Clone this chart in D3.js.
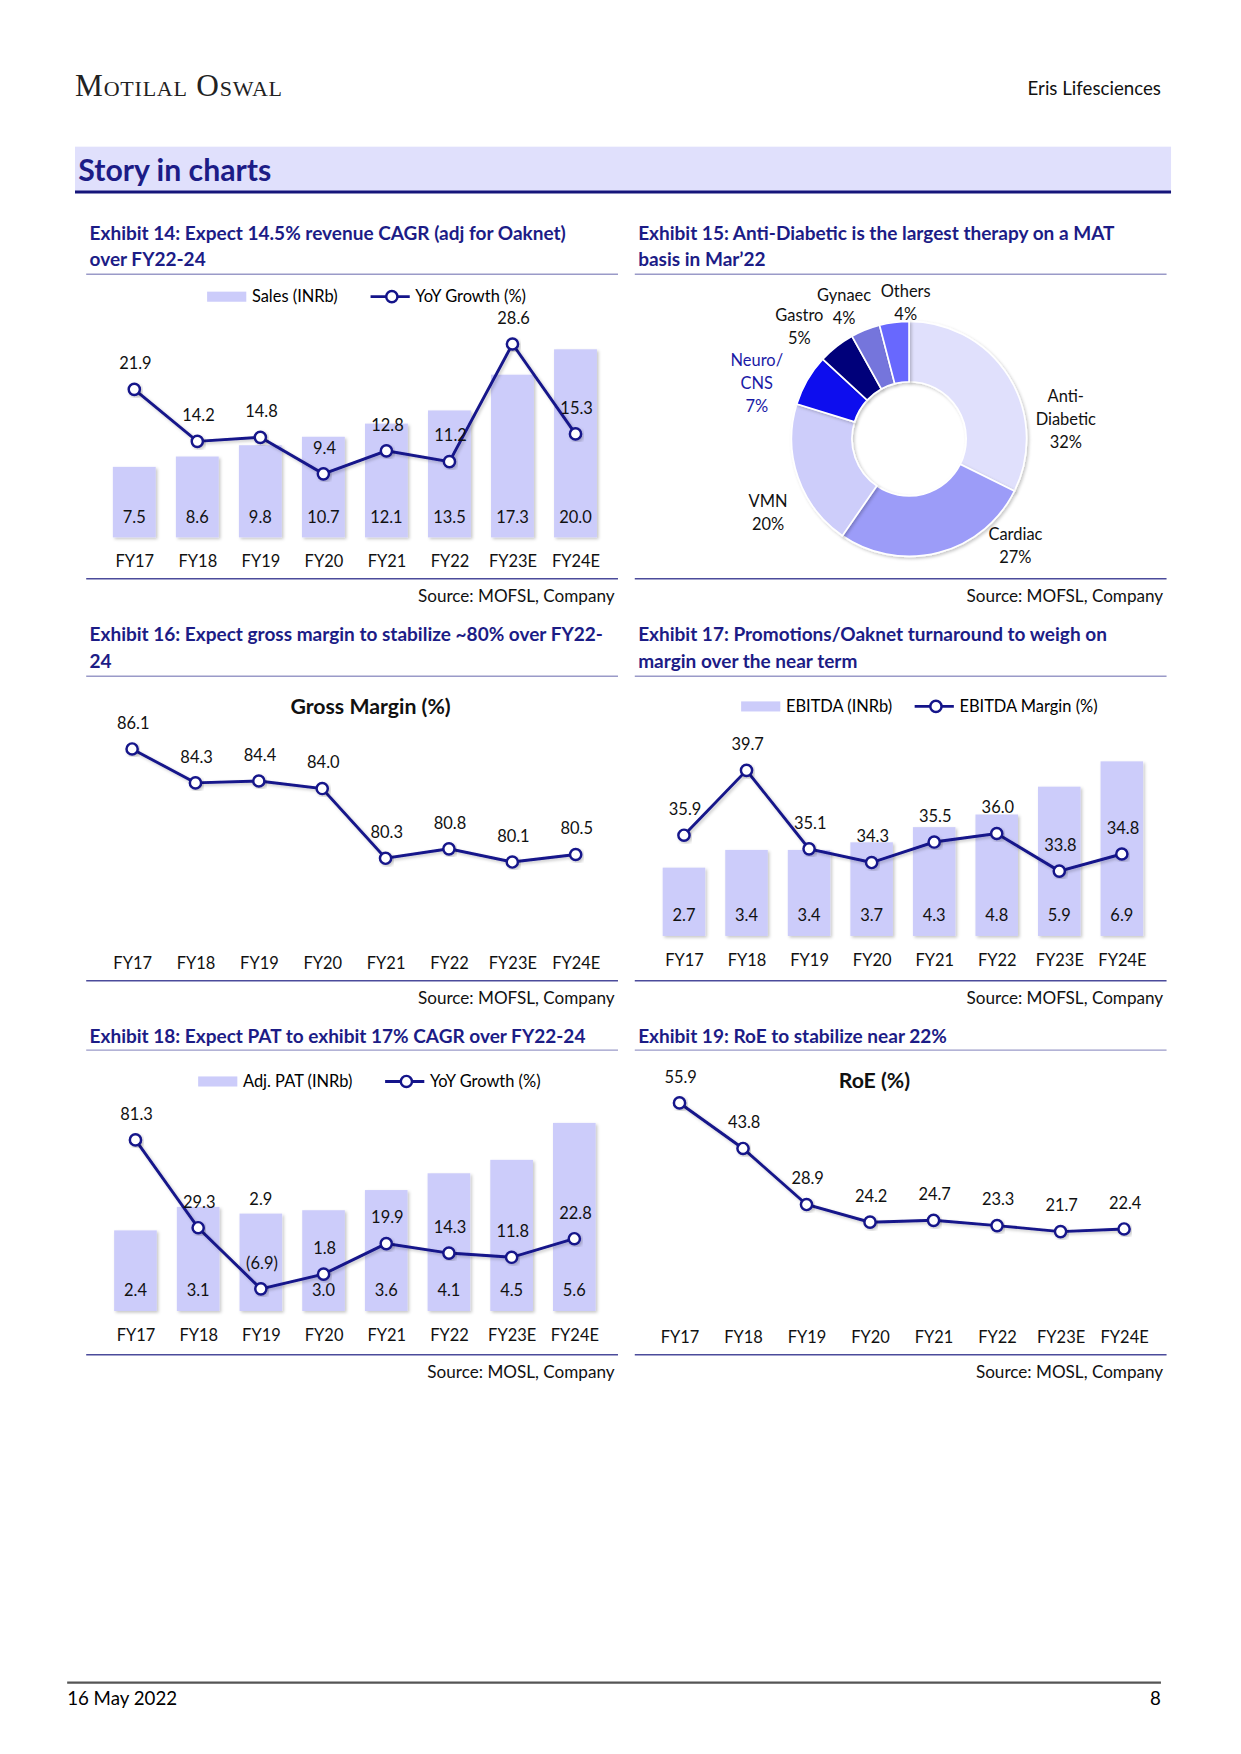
<!DOCTYPE html>
<html>
<head>
<meta charset="utf-8">
<script src="https://cdn.jsdelivr.net/npm/d3@7"></script>
<style>
  body { margin: 0; background: #fff; }
  text { font-family: Lato, "Open Sans", sans-serif; }
</style>
</head>
<body>
<script>
// ---- data ----
const years = ["FY17", "FY18", "FY19", "FY20", "FY21", "FY22", "FY23E", "FY24E"];

const sales = [7.5, 8.6, 9.8, 10.7, 12.1, 13.5, 17.3, 20.0];
const salesGrowth = [21.9, 14.2, 14.8, 9.4, 12.8, 11.2, 28.6, 15.3];

const therapyNames = ["Anti-Diabetic", "Cardiac", "VMN", "Neuro/CNS", "Gastro", "Gynaec", "Others"];
const therapyShare = [32, 27, 20, 7, 5, 4, 4];

const grossMargin = [86.1, 84.3, 84.4, 84.0, 80.3, 80.8, 80.1, 80.5];

const ebitda = [2.7, 3.4, 3.4, 3.7, 4.3, 4.8, 5.9, 6.9];
const ebitdaMargin = [35.9, 39.7, 35.1, 34.3, 35.5, 36.0, 33.8, 34.8];

const pat = [2.4, 3.1, 2.9, 3.0, 3.6, 4.1, 4.5, 5.6];
const patGrowth = [81.3, 29.3, -6.9, 1.8, 19.9, 14.3, 11.8, 22.8];

const roe = [55.9, 43.8, 28.9, 24.2, 24.7, 23.3, 21.7, 22.4];

// ---- colours ----
const navy = "#1c1c86";
const lineCol = "#14148a";
const barCol = "#ccccfa";
const pieCols = ["#e0e0fc", "#9c9cf8", "#cdcdfa", "#0a0aee", "#00007a", "#7575dc", "#6868fe"];

// page is laid out in a ~1108 wide box, scaled to the window
const W = 1108.5, H = 1566.7;
const svg = d3.select("body").append("svg")
  .attr("width", 1241).attr("height", 1754)
  .attr("viewBox", `0 0 ${W} ${H}`);

const defs = svg.append("defs");
defs.append("filter").attr("id", "sh").attr("x", "-20%").attr("y", "-20%").attr("width", "140%").attr("height", "140%")
  .append("feDropShadow").attr("dx", 1.5).attr("dy", 1.5).attr("stdDeviation", 1.2)
  .attr("flood-color", "#000").attr("flood-opacity", 0.22);

const fmt = v => v < 0 ? `(${d3.format(".1f")(-v)})` : d3.format(".1f")(v);

// ---- page header ----
svg.append("text").attr("x", 67).attr("y", 86)
  .style("font-family", "'Liberation Serif', serif").style("font-variant", "small-caps")
  .attr("font-size", 28).attr("letter-spacing", 0.7).attr("fill", "#222").text("Motilal Oswal");
svg.append("text").attr("x", 1037).attr("y", 85).attr("text-anchor", "end")
  .attr("font-size", 16.7).attr("fill", "#111").text("Eris Lifesciences");

svg.append("rect").attr("x", 67).attr("y", 131).attr("width", 979).attr("height", 40).attr("fill", "#e0e0fc");
svg.append("line").attr("x1", 67).attr("x2", 1046).attr("y1", 171.5).attr("y2", 171.5)
  .attr("stroke", "#15157a").attr("stroke-width", 2.5);
svg.append("text").attr("x", 70).attr("y", 162).attr("font-size", 27).attr("font-weight", "bold")
  .attr("fill", navy).text("Story in charts");

// ---- footer ----
svg.append("line").attr("x1", 60).attr("x2", 1037).attr("y1", 1503).attr("y2", 1503)
  .attr("stroke", "#555").attr("stroke-width", 2);
svg.append("text").attr("x", 60).attr("y", 1523).attr("font-size", 16.7).text("16 May 2022");
svg.append("text").attr("x", 1037).attr("y", 1523).attr("font-size", 16.7).attr("text-anchor", "end").text("8");

// ---- helpers ----
const cols = [{x0: 77, x1: 552}, {x0: 567, x1: 1042}];

function exhibit(col, lines, y, ruleY) {
  const c = cols[col];
  const t = svg.append("text").attr("x", c.x0 + 3).attr("y", y)
    .attr("font-size", 17).attr("font-weight", "bold").attr("fill", navy);
  lines.forEach((l, i) => t.append("tspan").attr("x", c.x0 + 3).attr("dy", i ? 24 : 0).text(l));
  svg.append("line").attr("x1", c.x0).attr("x2", c.x1).attr("y1", ruleY).attr("y2", ruleY)
    .attr("stroke", "#9a9ac8").attr("stroke-width", 1.3);
}

function source(col, ruleY, txt) {
  const c = cols[col];
  svg.append("line").attr("x1", c.x0).attr("x2", c.x1).attr("y1", ruleY).attr("y2", ruleY)
    .attr("stroke", "#4b4b9b").attr("stroke-width", 1.3);
  svg.append("text").attr("x", c.x1 - 3).attr("y", ruleY + 21).attr("text-anchor", "end")
    .attr("font-size", 15.3).attr("fill", "#111").text(txt);
}

function legend(y, bx, barName, lx, lineName) {
  const g = svg.append("g");
  g.append("rect").attr("x", bx).attr("y", y - 4.5).attr("width", 35).attr("height", 9).attr("fill", barCol);
  g.append("text").attr("x", bx + 40).attr("y", y + 5).attr("font-size", 14.7).text(barName);
  g.append("line").attr("x1", lx).attr("x2", lx + 35).attr("y1", y).attr("y2", y)
    .attr("stroke", lineCol).attr("stroke-width", 2.5);
  g.append("circle").attr("cx", lx + 19).attr("cy", y).attr("r", 5)
    .attr("fill", "#fff").attr("stroke", lineCol).attr("stroke-width", 2.2);
  g.append("text").attr("x", lx + 40).attr("y", y + 5).attr("font-size", 14.7).text(lineName);
}

function xAxis(x, base, ax0, ax1) {
  svg.append("line").attr("x1", ax0).attr("x2", ax1).attr("y1", base).attr("y2", base)
    .attr("stroke", "#a6a6a6").attr("stroke-width", 1.6).attr("filter", "url(#sh)");
  const a = svg.append("g").attr("transform", `translate(0,${base})`)
    .call(d3.axisBottom(x).tickSize(0).tickPadding(16));
  a.select(".domain").remove();
  a.selectAll("text").attr("font-size", 14.7).attr("fill", "#111")
    .style("font-family", "Lato, 'Open Sans', sans-serif");
}

function drawLine(x, y, vals) {
  const g = svg.append("g");
  g.append("path").datum(vals)
    .attr("d", d3.line().x((d, i) => x(years[i])).y(d => y(d)))
    .attr("fill", "none").attr("stroke", lineCol).attr("stroke-width", 2.6).attr("filter", "url(#sh)");
  g.selectAll("circle").data(vals).join("circle")
    .attr("cx", (d, i) => x(years[i])).attr("cy", d => y(d)).attr("r", 5)
    .attr("fill", "#fff").attr("stroke", lineCol).attr("stroke-width", 2.2).attr("filter", "url(#sh)");
  g.selectAll("text").data(vals).join("text")
    .attr("x", (d, i) => x(years[i]) + 1).attr("y", d => y(d) - 18)
    .attr("text-anchor", "middle").attr("font-size", 14.7).attr("fill", "#111").text(fmt);
}

function drawBars(x, y, vals, aboveIdx) {
  const bw = x.step() * 0.68;
  const g = svg.append("g");
  g.selectAll("rect").data(vals).join("rect")
    .attr("x", (d, i) => x(years[i]) - bw / 2).attr("width", bw)
    .attr("y", d => y(d)).attr("height", d => y(0) - y(d))
    .attr("fill", barCol).attr("filter", "url(#sh)");
  g.selectAll("text").data(vals).join("text")
    .attr("x", (d, i) => x(years[i]))
    .attr("y", (d, i) => aboveIdx.includes(i) ? y(d) - 8 : y(0) - 13)
    .attr("text-anchor", "middle").attr("font-size", 14.7).attr("fill", "#111").text(fmt);
}

// ---- Exhibit 14 ----
exhibit(0, ["Exhibit 14: Expect 14.5% revenue CAGR (adj for Oaknet)", "over FY22-24"], 214, 245);
legend(265, 185, "Sales (INRb)", 331, "YoY Growth (%)");
{
  const x = d3.scalePoint().domain(years).range([91.8, 542.2]).padding(0.5);
  const yb = d3.scaleLinear().domain([0, 25]).range([480, 270]);
  const yl = d3.scaleLinear().domain([0, 30]).range([480, 298.8]);
  drawBars(x, yb, sales, []);
  xAxis(x, 480, 100, 533);
  drawLine(x, yl, salesGrowth);
}
source(0, 517, "Source: MOFSL, Company");

// ---- Exhibit 15 ----
exhibit(1, ["Exhibit 15: Anti-Diabetic is the largest therapy on a MAT", "basis in Mar’22"], 214, 245);
{
  const cx = 812, cy = 392;
  const pie = d3.pie().sort(null).value(d => d)(therapyShare);
  const arc = d3.arc().innerRadius(51).outerRadius(105);
  const g = svg.append("g").attr("transform", `translate(${cx},${cy})`);
  g.selectAll("path").data(pie).join("path")
    .attr("d", arc).attr("fill", (d, i) => pieCols[i])
    .attr("stroke", "#fff").attr("stroke-width", 1.5).attr("filter", "url(#sh)");
  // label anchors relative to the donut centre (first line baseline)
  const labelAt = [[140, -33], [95, 90], [-126, 61], [-136, -65], [-98, -105], [-58, -123], [-3, -127]];
  therapyNames.forEach((n, i) => {
    const lines = n.split(/(?<=[-\/])/).concat([therapyShare[i] + "%"]);
    const t = g.append("text").attr("text-anchor", "middle").attr("font-size", 14.7)
      .attr("fill", i === 3 ? "#1a1aa6" : "#111");
    lines.forEach((l, k) => t.append("tspan").attr("x", labelAt[i][0])
      .attr("y", labelAt[i][1] + k * 20.5).text(l));
  });
}
source(1, 517, "Source: MOFSL, Company");

// ---- Exhibit 16 ----
exhibit(0, ["Exhibit 16: Expect gross margin to stabilize ~80% over FY22-", "24"], 573, 604);
svg.append("text").attr("x", 331).attr("y", 638).attr("text-anchor", "middle")
  .attr("font-size", 19).attr("font-weight", "bold").attr("fill", "#111").text("Gross Margin (%)");
{
  const x = d3.scalePoint().domain(years).range([89.7, 542.5]).padding(0.5);
  const y = d3.scaleLinear().domain([76, 88]).range([839, 637]);
  xAxis(x, 839, 89, 543);
  drawLine(x, y, grossMargin);
}
source(0, 876, "Source: MOFSL, Company");

// ---- Exhibit 17 ----
exhibit(1, ["Exhibit 17: Promotions/Oaknet turnaround to weigh on", "margin over the near term"], 573, 604);
legend(631, 662, "EBITDA (INRb)", 817, "EBITDA Margin (%)");
{
  const x = d3.scalePoint().domain(years).range([583, 1030]).padding(0.5);
  const yb = d3.scaleLinear().domain([0, 8]).range([836, 655.2]);
  const yl = d3.scaleLinear().domain([30, 42]).range([836, 653]);
  drawBars(x, yb, ebitda, []);
  xAxis(x, 836, 582, 1030);
  drawLine(x, yl, ebitdaMargin);
}
source(1, 876, "Source: MOFSL, Company");

// ---- Exhibit 18 ----
exhibit(0, ["Exhibit 18: Expect PAT to exhibit 17% CAGR over FY22-24"], 932, 938);
legend(966, 177, "Adj. PAT (INRb)", 344, "YoY Growth (%)");
{
  const x = d3.scalePoint().domain(years).range([93, 541]).padding(0.5);
  const yb = d3.scaleLinear().domain([0, 6]).range([1171, 991]);
  const yl = d3.scaleLinear().domain([-20, 100]).range([1171, 990]);
  drawBars(x, yb, pat, [2]);
  xAxis(x, 1171, 100, 540);
  drawLine(x, yl, patGrowth);
}
source(0, 1210, "Source: MOSL, Company");

// ---- Exhibit 19 ----
exhibit(1, ["Exhibit 19: RoE to stabilize near 22%"], 932, 938);
svg.append("text").attr("x", 781).attr("y", 972).attr("text-anchor", "middle")
  .attr("font-size", 19).attr("font-weight", "bold").attr("fill", "#111").text("RoE (%)");
{
  const x = d3.scalePoint().domain(years).range([578.6, 1032.4]).padding(0.5);
  const y = d3.scaleLinear().domain([0, 60]).range([1173, 971.4]);
  xAxis(x, 1173, 579, 1032);
  drawLine(x, y, roe);
}
source(1, 1210, "Source: MOSL, Company");
</script>
</body>
</html>
